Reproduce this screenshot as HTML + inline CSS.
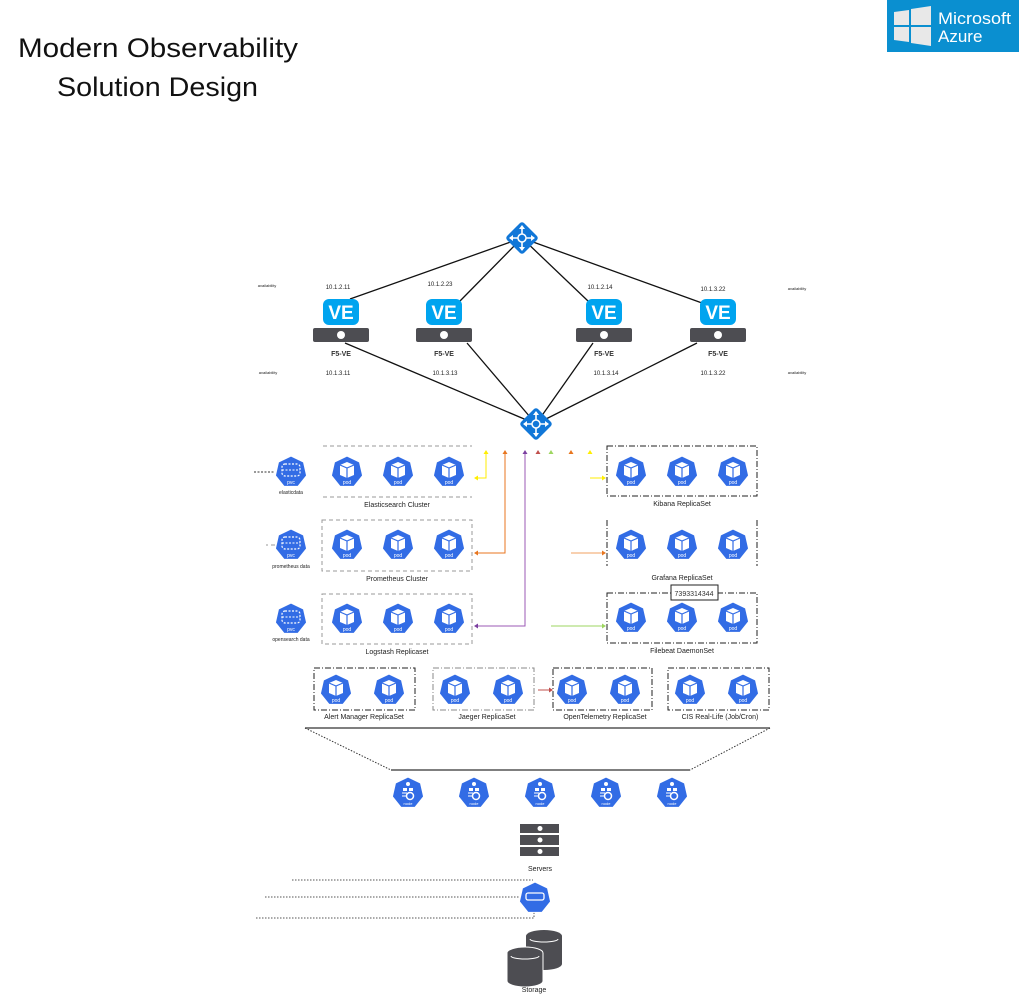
<!DOCTYPE html>
<html><head><meta charset="utf-8"><style>
html,body{margin:0;padding:0;background:#fff;}
svg{display:block;font-family:"Liberation Sans",sans-serif;}
</style></head><body>
<svg width="1019" height="997" viewBox="0 0 1019 997" xmlns="http://www.w3.org/2000/svg">
<defs>
<g id="hep"><polygon points="0,-16 12.5,-10 15.6,3.6 6.9,14.4 -6.9,14.4 -15.6,3.6 -12.5,-10" fill="#326ce5" stroke="#fff" stroke-width="1"/></g>
<g id="pod"><use href="#hep"/><path d="M-7,-7 L0,-10 L7,-7 L7,3 L0,6 L-7,3Z" fill="#fff"/><path d="M-7,-7 L0,-4 L7,-7 M0,-4 L0,6" stroke="#326ce5" stroke-width="1.2" fill="none"/><text x="0" y="12" font-size="5" fill="#fff" text-anchor="middle">pod</text></g>
<g id="dbpod"><use href="#hep"/><rect x="-9" y="-8" width="18" height="12" rx="3" fill="none" stroke="#fff" stroke-width="1.2" stroke-dasharray="2,1.5"/><line x1="-9" y1="-2" x2="9" y2="-2" stroke="#fff" stroke-width="1" stroke-dasharray="2,1.5"/><text x="0" y="12" font-size="5" fill="#fff" text-anchor="middle">pvc</text></g>
<g id="node"><use href="#hep"/><circle cx="0" cy="-9" r="2" fill="#fff"/><rect x="-5" y="-5" width="4" height="3" fill="#fff"/><rect x="1" y="-5" width="4" height="3" fill="#fff"/><circle cx="2" cy="3" r="3.5" fill="none" stroke="#fff" stroke-width="1.5"/><path d="M-6,0 h5 M-6,3 h4" stroke="#fff" stroke-width="1"/><text x="0" y="12" font-size="4" fill="#fff" text-anchor="middle">node</text></g>
<g id="router"><rect x="-12" y="-12" width="24" height="24" rx="3" transform="rotate(45)" fill="#1177d8"/><path d="M0,-12 V12 M-12,0 H12" stroke="#fff" stroke-width="1.6"/><path d="M0,-13 l-3,4 h6z M0,13 l-3,-4 h6z M-13,0 l4,-3 v6z M13,0 l-4,-3 v6z" fill="#fff"/><circle r="4" fill="#1177d8" stroke="#fff" stroke-width="1.5"/></g>
<g id="ve"><rect x="-18" y="-13" width="36" height="26" rx="6" fill="#00a4ef"/><text x="0" y="7" font-size="19" font-weight="bold" fill="#fff" text-anchor="middle">VE</text><rect x="-28" y="16" width="56" height="14" rx="2" fill="#4d4d52"/><circle cx="0" cy="23" r="4" fill="#fff"/><text x="0" y="44" font-size="7" font-weight="bold" fill="#333" text-anchor="middle">F5-VE</text></g>
</defs>

<text x="18" y="57" font-size="27" fill="#111" textLength="280" lengthAdjust="spacingAndGlyphs">Modern Observability</text>
<text x="57" y="96" font-size="27" fill="#111" textLength="201" lengthAdjust="spacingAndGlyphs">Solution Design</text>

<rect x="887" y="0" width="132" height="52" fill="#0a8fd0"/>
<g fill="#e8e8e8"><path d="M894,12 L909,10 V25 H894Z"/><path d="M911,9 L931,6 V25 H911Z"/><path d="M894,27 H909 V42 L894,40Z"/><path d="M911,27 H931 V46 L911,43Z"/></g>
<text x="938" y="24" font-size="17" fill="#fff" textLength="73" lengthAdjust="spacingAndGlyphs">Microsoft</text>
<text x="938" y="42" font-size="17" fill="#fff">Azure</text>

<g stroke="#111" stroke-width="1.3">
<line x1="522" y1="238" x2="350" y2="299"/><line x1="522" y1="238" x2="460" y2="301"/><line x1="522" y1="238" x2="588" y2="301"/><line x1="522" y1="238" x2="702" y2="303"/>
<line x1="345" y1="343" x2="536" y2="424"/><line x1="467" y1="343" x2="536" y2="424"/><line x1="593" y1="343" x2="536" y2="424"/><line x1="697" y1="343" x2="536" y2="424"/>
</g>
<use href="#router" x="522" y="238"/>
<use href="#router" x="536" y="424"/>
<use href="#ve" x="341" y="312"/><use href="#ve" x="444" y="312"/><use href="#ve" x="604" y="312"/><use href="#ve" x="718" y="312"/>
<g font-size="6" fill="#222" text-anchor="middle">
<text x="338" y="289">10.1.2.11</text><text x="440" y="286">10.1.2.23</text><text x="600" y="289">10.1.2.14</text><text x="713" y="291">10.1.3.22</text>
<text x="338" y="375">10.1.3.11</text><text x="445" y="375">10.1.3.13</text><text x="606" y="375">10.1.3.14</text><text x="713" y="375">10.1.3.22</text>
<text x="267" y="287" font-size="4">availability</text><text x="797" y="290" font-size="4">availability</text><text x="268" y="374" font-size="4">availability</text><text x="797" y="374" font-size="4">availability</text>
</g>

<g fill="none" stroke="#999" stroke-width="1" stroke-dasharray="4,3">
<line x1="323" y1="446" x2="472" y2="446"/><line x1="323" y1="497" x2="472" y2="497"/>
<rect x="322" y="520" width="150" height="51"/><rect x="322" y="594" width="150" height="50"/>
<line x1="275" y1="545" x2="266" y2="545"/>
</g>
<line x1="254" y1="472" x2="275" y2="472" stroke="#333" stroke-dasharray="2,1.5"/>
<use href="#dbpod" x="291" y="472"/><use href="#dbpod" x="291" y="545"/><use href="#dbpod" x="291" y="619"/>
<use href="#pod" x="347" y="472"/><use href="#pod" x="398" y="472"/><use href="#pod" x="449" y="472"/>
<use href="#pod" x="347" y="545"/><use href="#pod" x="398" y="545"/><use href="#pod" x="449" y="545"/>
<use href="#pod" x="347" y="619"/><use href="#pod" x="398" y="619"/><use href="#pod" x="449" y="619"/>
<g font-size="7" fill="#222" text-anchor="middle">
<text x="397" y="507">Elasticsearch Cluster</text><text x="397" y="581">Prometheus Cluster</text><text x="397" y="654">Logstash Replicaset</text>
<text x="291" y="494" font-size="5">elasticdata</text><text x="291" y="568" font-size="5">prometheus data</text><text x="291" y="641" font-size="5">opensearch data</text>
</g>

<g fill="none" stroke="#222" stroke-width="1" stroke-dasharray="6,2,1,2">
<rect x="607" y="446" width="150" height="50"/>
<line x1="607" y1="520" x2="607" y2="566"/><line x1="757" y1="520" x2="757" y2="566"/>
<rect x="607" y="593" width="150" height="50"/>
<rect x="314" y="668" width="101" height="42"/><rect x="433" y="668" width="101" height="42" stroke="#888"/><rect x="553" y="668" width="99" height="42"/><rect x="668" y="668" width="101" height="42"/>
</g>
<rect x="671" y="585" width="47" height="15" fill="#fff" stroke="#222"/>
<text x="694" y="596" font-size="7" fill="#333" text-anchor="middle">7393314344</text>
<use href="#pod" x="631" y="472"/><use href="#pod" x="682" y="472"/><use href="#pod" x="733" y="472"/>
<use href="#pod" x="631" y="545"/><use href="#pod" x="682" y="545"/><use href="#pod" x="733" y="545"/>
<use href="#pod" x="631" y="618"/><use href="#pod" x="682" y="618"/><use href="#pod" x="733" y="618"/>
<use href="#pod" x="336" y="690"/><use href="#pod" x="389" y="690"/><use href="#pod" x="455" y="690"/><use href="#pod" x="508" y="690"/>
<use href="#pod" x="572" y="690"/><use href="#pod" x="625" y="690"/><use href="#pod" x="690" y="690"/><use href="#pod" x="743" y="690"/>
<g font-size="7" fill="#222" text-anchor="middle">
<text x="682" y="506">Kibana ReplicaSet</text><text x="682" y="580">Grafana ReplicaSet</text><text x="682" y="653">Filebeat DaemonSet</text>
<text x="364" y="719">Alert Manager ReplicaSet</text><text x="487" y="719">Jaeger ReplicaSet</text><text x="605" y="719">OpenTelemetry ReplicaSet</text><text x="720" y="719">CIS Real-Life (Job/Cron)</text>
</g>

<g fill="none" stroke-width="1">
<path d="M486,453 V478 H478" stroke="#ffee00"/><path d="M505,453 V553 H478" stroke="#e8761f"/><path d="M525,453 V626 H478" stroke="#9b59b6"/>
<path d="M590,478 H602" stroke="#ffee00"/><path d="M571,553 H602" stroke="#f0a060"/><path d="M551,626 H602" stroke="#9ed660"/>
<path d="M538,690 H550" stroke="#c0504d"/>
</g>
<g>
<path d="M486,450 l-2.5,4 h5z M474,478 l4,-2.5 v5z" fill="#ffee00"/>
<path d="M505,450 l-2.5,4 h5z M474,553 l4,-2.5 v5z" fill="#e8761f"/>
<path d="M525,450 l-2.5,4 h5z M474,626 l4,-2.5 v5z" fill="#7b3fa0"/>
<path d="M538,450 l-2.5,4 h5z" fill="#c0504d"/><path d="M551,450 l-2.5,4 h5z" fill="#9ed660"/><path d="M571,450 l-2.5,4 h5z" fill="#e8761f"/><path d="M590,450 l-2.5,4 h5z" fill="#ffee00"/>
<path d="M606,478 l-4,-2.5 v5z" fill="#ffee00"/><path d="M606,553 l-4,-2.5 v5z" fill="#e8761f"/><path d="M606,626 l-4,-2.5 v5z" fill="#9ed660"/><path d="M553,690 l-4,-2.5 v5z" fill="#c0504d"/>
</g>

<line x1="305" y1="728" x2="770" y2="728" stroke="#333" stroke-width="1.2"/>
<line x1="391" y1="770" x2="690" y2="770" stroke="#333" stroke-width="1.2"/>
<g stroke="#333" stroke-dasharray="1.5,1.5"><line x1="305" y1="728" x2="391" y2="770"/><line x1="770" y1="728" x2="690" y2="770"/></g>
<use href="#node" x="408" y="793"/><use href="#node" x="474" y="793"/><use href="#node" x="540" y="793"/><use href="#node" x="606" y="793"/><use href="#node" x="672" y="793"/>

<g fill="#4d4d52"><rect x="520" y="824" width="39" height="9"/><rect x="520" y="835" width="39" height="10"/><rect x="520" y="847" width="39" height="9"/></g>
<g fill="#fff"><circle cx="540" cy="828.5" r="2.5"/><circle cx="540" cy="840" r="2.5"/><circle cx="540" cy="851.5" r="2.5"/></g>
<text x="540" y="871" font-size="7" fill="#222" text-anchor="middle">Servers</text>
<g fill="none" stroke="#555" stroke-dasharray="1.5,1.5">
<line x1="292" y1="880" x2="533" y2="880"/><line x1="265" y1="897" x2="520" y2="897"/><path d="M256,918 H534 V912"/>
</g>
<use href="#hep" x="535" y="898"/>
<rect x="526" y="893" width="18" height="7" rx="2" fill="none" stroke="#fff" stroke-width="1.3"/>

<g fill="#4d4d52">
<path d="M526,936 a18,6 0 0 1 36,0 v28 a18,6 0 0 1 -36,0z"/>
<path d="M507,953 a18,6 0 0 1 36,0 v28 a18,6 0 0 1 -36,0z" stroke="#fff" stroke-width="1"/>
</g>
<path d="M530,939 a14,3 0 0 0 28,0 M511,956 a14,3 0 0 0 28,0" fill="none" stroke="#fff" stroke-width="1"/>
<text x="534" y="992" font-size="7" fill="#222" text-anchor="middle">Storage</text>
</svg>
</body></html>
